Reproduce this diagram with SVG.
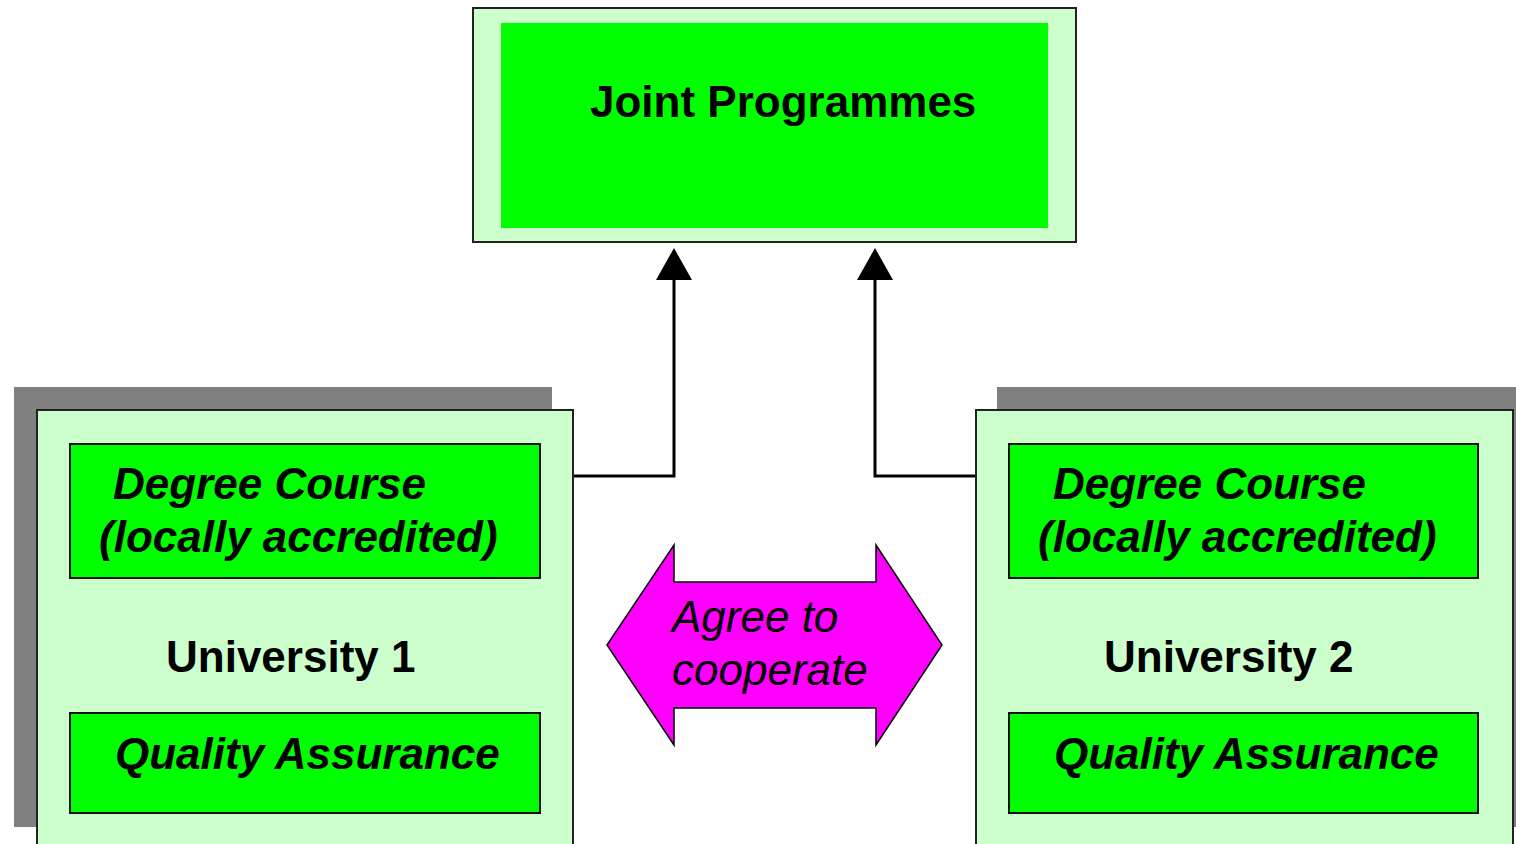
<svg xmlns="http://www.w3.org/2000/svg" width="1516" height="844" viewBox="0 0 1516 844">
  <style>
    .panel { fill: #CCFFCC; stroke: #222; stroke-width: 2; }
    .box { fill: #00FF00; stroke: #111; stroke-width: 2; }
    .shadow { fill: #808080; }
    .lbl { font-family: "Liberation Sans", Arial, sans-serif; font-size: 44px; fill: #000; }
    .b { font-weight: bold; }
    .bi { font-weight: bold; font-style: italic; }
    .i { font-style: italic; }
    .wire { fill: none; stroke: #000; stroke-width: 3; marker-end: url(#tip); }
  </style>
  <defs>
    <!-- solid triangular arrowhead, base sits on the line end -->
    <marker id="tip" viewBox="0 0 32 36" refX="0" refY="18" markerWidth="32" markerHeight="36" markerUnits="userSpaceOnUse" orient="auto">
      <path d="M0 0 L32 18 L0 36 Z" fill="#000"/>
    </marker>
  </defs>
  <rect width="1516" height="844" fill="#FFFFFF"/>

  <!-- Top target node -->
  <g id="joint-programmes">
    <rect class="panel" x="473" y="8" width="603" height="234"/>
    <rect x="501" y="23" width="547" height="205" fill="#00FF00"/>
    <text class="lbl b" x="590" y="117">Joint Programmes</text>
  </g>

  <!-- Connectors -->
  <g id="connectors">
    <path class="wire" d="M573 476 H674 V280"/>
    <path class="wire" d="M976 476 H875 V280"/>
  </g>

  <!-- University 1 -->
  <g id="university-1">
    <rect class="shadow" x="14" y="387" width="538" height="440"/>
    <rect class="panel" x="37" y="410" width="536" height="440"/>
    <rect class="box" x="70" y="444" width="470" height="134"/>
    <text class="lbl bi" x="113" y="499">Degree Course</text>
    <text class="lbl bi" x="99" y="552">(locally accredited)</text>
    <text class="lbl b" x="166" y="672">University 1</text>
    <rect class="box" x="70" y="713" width="470" height="100"/>
    <text class="lbl bi" x="115" y="769">Quality Assurance</text>
  </g>

  <!-- University 2 -->
  <g id="university-2">
    <rect class="shadow" x="997" y="387" width="530" height="440"/>
    <rect class="panel" x="976" y="410" width="537" height="440"/>
    <rect class="box" x="1009" y="444" width="469" height="134"/>
    <text class="lbl bi" x="1053" y="499">Degree Course</text>
    <text class="lbl bi" x="1038" y="552">(locally accredited)</text>
    <text class="lbl b" x="1104" y="672">University 2</text>
    <rect class="box" x="1009" y="713" width="469" height="100"/>
    <text class="lbl bi" x="1054" y="769">Quality Assurance</text>
  </g>

  <!-- Cooperation double arrow -->
  <g id="agree-to-cooperate">
    <path d="M607 645 L674 545 V582 H876 V545 L942 645 L876 745 V708 H674 V745 Z" fill="#FF00FF" stroke="#000" stroke-width="1.5"/>
    <text class="lbl i" x="672" y="632">Agree to</text>
    <text class="lbl i" x="672" y="685">cooperate</text>
  </g>
</svg>
